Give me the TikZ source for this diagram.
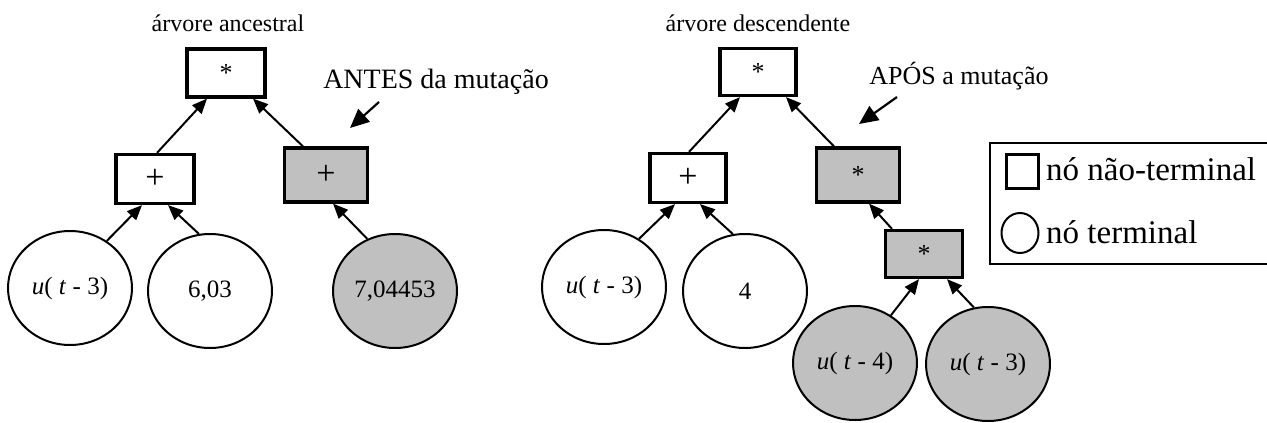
\documentclass[tikz,border=0pt]{standalone}
\usepackage{fontspec}
\setmainfont{Liberation Serif}
\usetikzlibrary{arrows.meta,shapes.geometric}
\definecolor{mutgrey}{HTML}{C0C0C0}
\begin{document}
\begin{tikzpicture}[x=1pt,y=-1pt,
  fnbox/.style={draw=black, line width=3.2pt, rectangle, inner sep=0pt,
    font=\fontsize{26}{30}\selectfont},
  plusbox/.style={fnbox, font=\fontsize{34}{38}\selectfont},
  mutated/.style={fill=mutgrey},
  leaf/.style={ellipse, draw=black, line width=2pt, inner sep=0pt,
    minimum width=124pt, minimum height=114pt, font=\fontsize{25}{30}\selectfont},
  edge/.style={-{Triangle[length=15pt,width=12.5pt]}, line width=2pt},
  pointer/.style={-{Triangle[length=19pt,width=17pt]}, line width=2.2pt},
  title/.style={anchor=base, inner sep=0pt, font=\fontsize{24}{28}\selectfont},
  note/.style={anchor=base, inner sep=0pt},
  legtext/.style={anchor=base west, inner sep=0pt, font=\fontsize{33}{37}\selectfont}]
\useasboundingbox (0,0) rectangle (1267,423);
\clip (0,0) rectangle (1267,423);

% ---------- ancestral tree ----------
\node[title] (tA) at (228,31) {árvore ancestral};
\node[fnbox, minimum width=78pt, minimum height=48pt] (A1) at (226,73) {*};
\node[plusbox, minimum width=78pt, minimum height=49pt] (A2) at (155,179) {+};
\node[plusbox, mutated, minimum width=83pt, minimum height=54pt] (A3) at (326,175) {+};
\node[leaf] (C1) at (70,288) {\textit{u}( \textit{t} - 3)};
\node[leaf] (C2) at (210,291) {6,03};
\node[leaf, mutated] (C3) at (395,291) {7,04453};

\draw[edge] ([xshift=2pt]A2.north) -- ([xshift=-19pt]A1.south);
\draw[edge] ([xshift=-23pt]A3.north) -- ([xshift=27pt]A1.south);
\draw[edge] (C1.52) -- ([xshift=-13pt]A2.south);
\draw[edge] (C2.101) -- ([xshift=13pt]A2.south);
\draw[edge] (C3.118) -- ([xshift=7pt]A3.south);

\node[note, font=\fontsize{28}{32}\selectfont] (nA) at (436,88) {ANTES da mutação};
\coordinate (pA0) at (379,102);
\coordinate (pA1) at (350,128);
\draw[pointer] (pA0) -- (pA1);

% ---------- descendant tree ----------
\node[title] (tB) at (758,31) {árvore descendente};
\node[fnbox, minimum width=76pt, minimum height=47pt] (B1) at (758,72) {*};
\node[plusbox, minimum width=76pt, minimum height=49pt] (B2) at (688,178) {+};
\node[fnbox, mutated, minimum width=83pt, minimum height=54pt] (B3) at (858,175) {*};
\node[fnbox, mutated, minimum width=77pt, minimum height=47pt] (B4) at (924,254) {*};
\node[leaf] (D1) at (604,287) {\textit{u}( \textit{t} - 3)};
\node[leaf] (D2) at (745,291) {4};
\node[leaf, mutated] (D3) at (855,363) {\textit{u}( \textit{t} - 4)};
\node[leaf, mutated] (D4) at (988,364) {\textit{u}( \textit{t} - 3)};

\draw[edge] ([xshift=1pt]B2.north) -- ([xshift=-18pt]B1.south);
\draw[edge] ([xshift=-24pt]B3.north) -- ([xshift=28pt]B1.south);
\draw[edge] (D1.54) -- ([xshift=-13pt]B2.south);
\draw[edge] (D2.102) -- ([xshift=12pt]B2.south);
\draw[edge] ([xshift=-32pt]B4.north) -- ([xshift=11pt]B3.south);
\draw[edge] (D3.53) -- ([xshift=-5pt]B4.south);
\draw[edge] (D4.104) -- ([xshift=23pt]B4.south);

\node[note, font=\fontsize{26}{30}\selectfont] (nB) at (959,84) {APÓS a mutação};
\coordinate (pB0) at (897,97);
\coordinate (pB1) at (859,124);
\draw[pointer] (pB0) -- (pB1);

% ---------- legend ----------
\node[draw=black, line width=1.6pt, rectangle, inner sep=0pt,
  minimum width=279pt, minimum height=121pt] (leg) at (1129.5,203.5) {};
\node[draw=black, line width=3pt, rectangle, inner sep=0pt,
  minimum width=32pt, minimum height=34pt] (legF) at (1022,171) {};
\node[draw=black, line width=2pt, ellipse, inner sep=0pt,
  minimum width=37pt, minimum height=40pt] (legT) at (1020,233) {};
\node[legtext] (legFt) at (1046,180) {nó não-terminal};
\node[legtext] (legTt) at (1046,243) {nó terminal};
\end{tikzpicture}
\end{document}
